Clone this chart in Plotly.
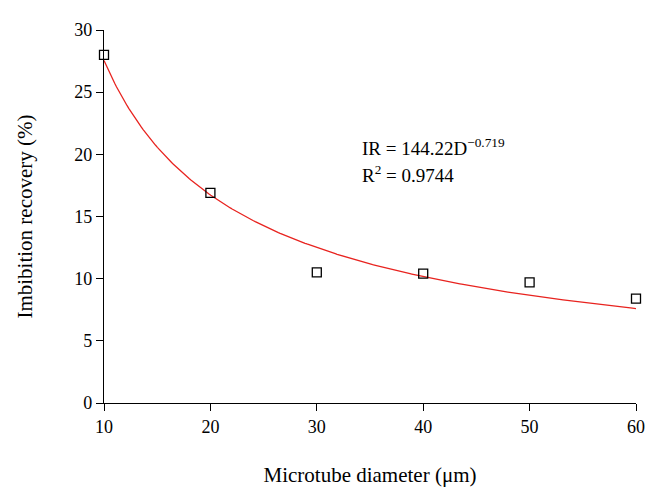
import numpy as np
import plotly.graph_objects as go

diameter = [10, 20, 30, 40, 50, 60]
recovery = [28.0, 16.9, 10.5, 10.4, 9.7, 8.4]
fit_a = 144.22
fit_b = -0.719
x_ticks = [10, 20, 30, 40, 50, 60]
y_ticks = [0, 5, 10, 15, 20, 25, 30]

xf = np.linspace(10, 60, 300)
yf = fit_a * xf ** fit_b

font = "Liberation Serif"
fig = go.Figure()
fig.add_trace(go.Scatter(x=xf, y=yf, mode="lines",
                         line=dict(color="#e8231f", width=1.3),
                         showlegend=False, hoverinfo="skip"))
fig.add_trace(go.Scatter(x=diameter, y=recovery, mode="markers",
                         marker=dict(symbol="square-open", size=9,
                                     color="black", line=dict(width=1.3)),
                         showlegend=False, cliponaxis=False))

fig.add_annotation(x=34.1, y=20.6, xref="x", yref="y", xanchor="left",
                   text="IR = 144.22D<sup>−0.719</sup>", showarrow=False,
                   font=dict(family=font, size=19, color="black"))
fig.add_annotation(x=34.1, y=18.4, xref="x", yref="y", xanchor="left",
                   text="R<sup>2</sup> = 0.9744", showarrow=False,
                   font=dict(family=font, size=19, color="black"))

fig.update_layout(
    width=651, height=486,
    margin=dict(l=96, r=23, t=13, b=87),
    paper_bgcolor="white", plot_bgcolor="white",
    font=dict(family=font, size=18, color="black"),
    xaxis=dict(range=[10, 60], tickvals=x_ticks, showgrid=False, zeroline=False,
               showline=True, linecolor="black", linewidth=1.3,
               ticks="outside", ticklen=7, tickcolor="black",
               tickfont=dict(size=18),
               title=dict(text="Microtube diameter (μm)", standoff=31,
                          font=dict(size=21))),
    yaxis=dict(range=[0, 30], tickvals=y_ticks, showgrid=False, zeroline=False,
               showline=True, linecolor="black", linewidth=1.3,
               ticks="outside", ticklen=7, tickcolor="black",
               tickfont=dict(size=18),
               title=dict(text="Imbibition recovery (%)", standoff=35,
                          font=dict(size=21))),
)
fig.write_html("out.html")
